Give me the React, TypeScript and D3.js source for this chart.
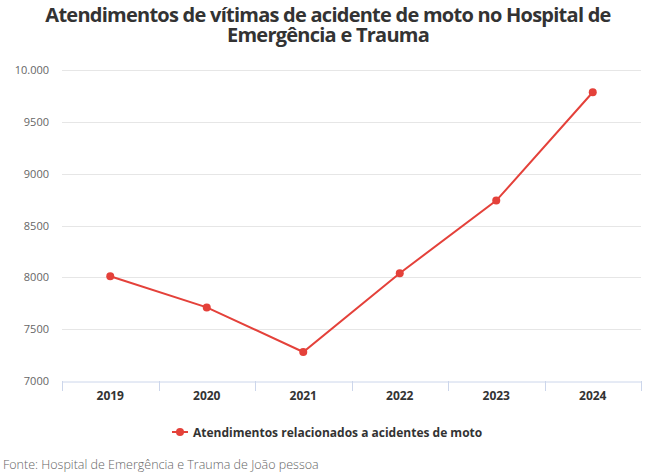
import React, { useEffect, useRef } from 'react';
import * as d3 from 'd3';

const years = ['2019', '2020', '2021', '2022', '2023', '2024'];
const atendimentos = [8010, 7710, 7280, 8040, 8740, 9785];
const yTicks = [7000, 7500, 8000, 8500, 9000, 9500, 10000];
const titleLines = [
  'Atendimentos de vítimas de acidente de moto no Hospital de',
  'Emergência e Trauma',
];
const seriesName = 'Atendimentos relacionados a acidentes de moto';
const source = 'Fonte: Hospital de Emergência e Trauma de João pessoa';

const RED = '#e4413a';
const FONT = '"Open Sans", "Noto Sans", sans-serif';

const App: React.FC = () => {
  const svgRef = useRef<SVGSVGElement>(null);

  useEffect(() => {
    if (!svgRef.current) return;
    const root = d3.select(svgRef.current);
    root.selectAll('*').remove();

    const W = 656;
    const H = 476;
    const margin = { top: 70, right: 15, bottom: 95, left: 62 };

    const svg = root.attr('width', W).attr('height', H).style('font-family', FONT);

    svg.append('rect').attr('width', W).attr('height', H).attr('fill', '#fff');

    // Title
    svg.append('g')
      .selectAll('text')
      .data(titleLines)
      .join('text')
      .attr('x', W / 2)
      .attr('y', (d, i) => 22 + i * 20)
      .attr('text-anchor', 'middle')
      .attr('fill', '#333')
      .style('font-size', '20px')
      .style('font-weight', 'bold')
      .style('letter-spacing', '-0.75px')
      .text(d => d);

    const x = d3.scaleBand()
      .domain(years)
      .range([margin.left, W - margin.right]);

    const y = d3.scaleLinear()
      .domain([7000, 10000])
      .range([H - margin.bottom, margin.top]);

    // Gridlines
    svg.append('g')
      .selectAll('line')
      .data(yTicks.filter(t => t !== 7000))
      .join('line')
      .attr('x1', margin.left)
      .attr('x2', W - margin.right)
      .attr('y1', d => Math.round(y(d)) + 0.5)
      .attr('y2', d => Math.round(y(d)) + 0.5)
      .attr('stroke', '#e6e6e6')
      .attr('stroke-width', 1);

    // Y labels
    const fmt = (v: number) => (v >= 10000 ? d3.format(',')(v).replace(/,/g, '.') : String(v));
    svg.append('g')
      .selectAll('text')
      .data(yTicks)
      .join('text')
      .attr('x', 49)
      .attr('y', d => y(d) + 4)
      .attr('text-anchor', 'end')
      .attr('fill', '#666')
      .style('font-size', '11px')
      .text(d => fmt(d));

    // X axis
    const xAxis = svg.append('g')
      .attr('transform', `translate(0,${Math.round(y(7000)) + 0.5})`)
      .call(d3.axisBottom(x).tickSize(0).tickPadding(10));
    xAxis.select('.domain').attr('stroke', '#ccd6eb');
    xAxis.selectAll('.tick text')
      .attr('fill', '#333')
      .style('font-size', '12px')
      .style('font-weight', 'bold')
      .style('font-family', FONT);

    svg.append('g')
      .selectAll('line')
      .data([...years.map(d => x(d)!), W - margin.right])
      .join('line')
      .attr('x1', d => Math.round(d) + 0.5)
      .attr('x2', d => Math.round(d) + 0.5)
      .attr('y1', Math.round(y(7000)))
      .attr('y2', Math.round(y(7000)) + 10)
      .attr('stroke', '#ccd6eb');

    // Line
    const line = d3.line<number>()
      .x((d, i) => x(years[i])! + x.bandwidth() / 2)
      .y(d => y(d));

    svg.append('path')
      .datum(atendimentos)
      .attr('d', line)
      .attr('fill', 'none')
      .attr('stroke', RED)
      .attr('stroke-width', 2);

    svg.append('g')
      .selectAll('circle')
      .data(atendimentos)
      .join('circle')
      .attr('cx', (d, i) => x(years[i])! + x.bandwidth() / 2)
      .attr('cy', d => y(d))
      .attr('r', 4)
      .attr('fill', RED);

    // Legend
    const legend = svg.append('g').attr('transform', 'translate(172,432)');
    legend.append('line')
      .attr('x1', 0).attr('x2', 16)
      .attr('stroke', RED).attr('stroke-width', 2);
    legend.append('circle').attr('cx', 8).attr('r', 4).attr('fill', RED);
    legend.append('text')
      .attr('x', 21)
      .attr('y', 4.5)
      .attr('fill', '#333')
      .style('font-size', '12px')
      .style('font-weight', 'bold')
      .text(seriesName);

    // Source
    svg.append('text')
      .attr('x', 3)
      .attr('y', 469)
      .attr('fill', '#666')
      .style('font-size', '12.5px')
      .style('font-weight', 300)
      .text(source);
  }, []);

  return (
    <div style={{ position: 'absolute', left: 0, top: 0 }}>
      <svg ref={svgRef}></svg>
    </div>
  );
};

export default App;
